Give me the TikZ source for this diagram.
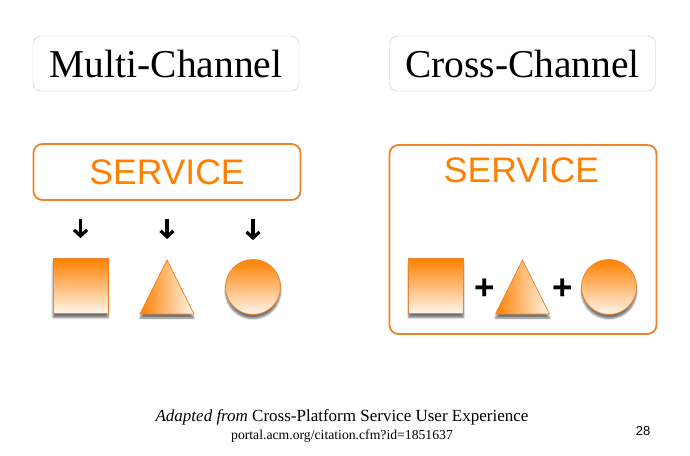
\documentclass[tikz,border=0pt]{standalone}
\usepackage{fontspec}
\setmainfont{Liberation Serif}
\setsansfont{Liberation Sans}
\usetikzlibrary{positioning,shapes.geometric,arrows.meta,shadows.blur}
\definecolor{chorange}{RGB}{255,128,0}
\definecolor{chborder}{RGB}{236,132,44}
\definecolor{chgray}{RGB}{200,200,200}
\definecolor{chpale}{RGB}{255,246,236}
\tikzstyle{titlebox} = [draw=chgray, rounded corners=8pt, minimum width=266pt, minimum height=55pt, font=\fontsize{39.5}{40}\selectfont]
\tikzstyle{svcbox} = [draw=chborder, line width=1.8pt, rounded corners=9pt, minimum width=267pt]
\tikzstyle{svctext} = [text=chorange, font=\sffamily\fontsize{35.5}{36}\selectfont, inner sep=0pt]
\tikzstyle{shadowed} = [draw=chborder, line width=0.8pt, blur shadow={shadow xshift=0pt, shadow yshift=-4pt, shadow opacity=55, shadow blur steps=6}]
\tikzstyle{sqr} = [shadowed, rectangle, minimum size=55pt, inner sep=0pt, top color=chorange, bottom color=chpale]
\tikzstyle{tri} = [shadowed, isosceles triangle, isosceles triangle stretches, shape border rotate=90, minimum width=54pt, minimum height=54pt, inner sep=0pt, left color=chorange, right color=chpale, anchor=apex]
\tikzstyle{circ} = [shadowed, circle, minimum size=55pt, inner sep=0pt, top color=chorange, bottom color=chpale]
\tikzstyle{to} = [-{Straight Barb[length=6pt,width=13pt,line width=3.2pt]}, line width=3.4pt]
\tikzstyle{plus} = [font=\sffamily\bfseries\fontsize{35}{35}\selectfont, inner sep=0pt]

\begin{document}
\begin{tikzpicture}[x=1pt, y=1pt]
	\useasboundingbox (0,0) rectangle (690,-455);
	% titles
	\node (multi) [titlebox] at (166,-63.5) {Multi-Channel};
	\node (cross) [titlebox] at (522.5,-63.5) {Cross-Channel};
	% multi-channel
	\node (svcA) [svcbox, svctext, text=chorange, inner sep=0pt, minimum height=56pt] at (167,-172) {SERVICE};
	\node (sqA) [sqr] at (80.5,-286) {};
	\node (triA) [tri] at (167,-259) {};
	\node (cirA) [circ] at (253,-287) {};
	\coordinate (inA) at (80.5,-219);
	\coordinate (inB) at (167,-219);
	\coordinate (inC) at (253,-219);
	\draw [to] (inA) -- ([yshift=20pt]sqA.north);
	\draw [to] (inB) -- ([yshift=20pt]triA.apex);
	\draw [to] (inC) -- ([yshift=19pt]cirA.north);
	% cross-channel
	\node (svcB) [svcbox, minimum height=189pt] at (523,-239.5) {};
	\node (svcBt) [svctext] at (521.5,-170.5) {SERVICE};
	\node (sqB) [sqr] at (436,-286) {};
	\node (triB) [tri] at (522.5,-259) {};
	\node (cirB) [circ] at (609,-287) {};
	\node (plA) [plus] at (485,-289) {+};
	\node (plB) [plus] at (563,-289) {+};
	% footer
	\node (src) at (342,-417) {\fontsize{17}{18}\selectfont\textit{Adapted from} Cross-Platform Service User Experience};
	\node (url) [below=-2pt of src] {\fontsize{13.7}{14}\selectfont portal.acm.org/citation.cfm?id=1851637};
	\node (page) at (643,-431) {\sffamily\fontsize{13}{14}\selectfont 28};
\end{tikzpicture}
\end{document}
